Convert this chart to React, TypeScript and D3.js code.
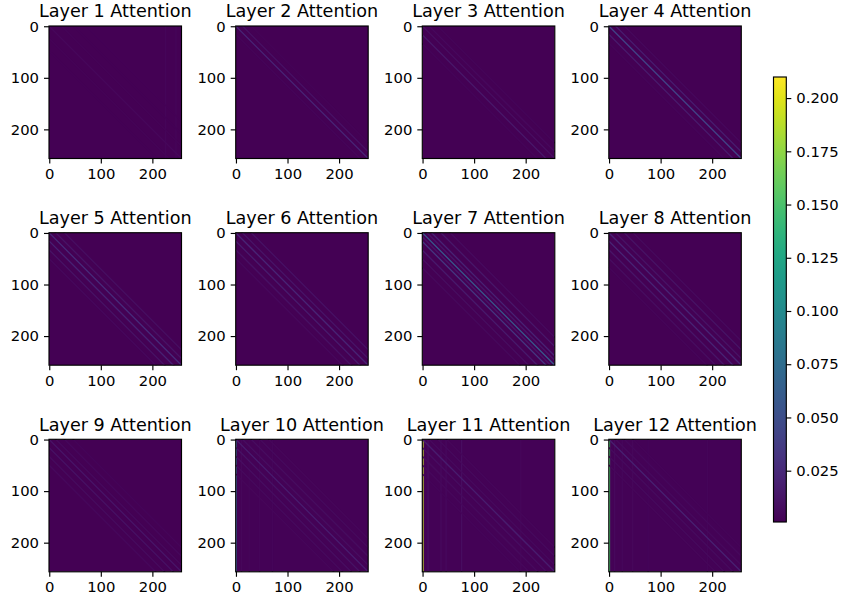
import { useEffect, useRef } from "react";
import { select, scaleLinear, axisBottom, axisLeft, axisRight, interpolateViridis, range } from "d3";

// [offset from the main diagonal (positive = below), attention value]
type Band = [number, number];
// [column, attention value]
type Stripe = [number, number];

const layer1Bands: Band[] = [[0, 0.0045], [-24, 0.003], [24, 0.003], [-48, 0.0025], [48, 0.0025], [-72, 0.002]];
const layer2Bands: Band[] = [[0, 0.022], [-13, 0.01], [16, 0.004], [-30, 0.003]];
const layer3Bands: Band[] = [[0, 0.009], [17, 0.013], [-13, 0.005], [-30, 0.0035], [34, 0.0035]];
const layer4Bands: Band[] = [[0, 0.042], [-13, 0.017], [16, 0.015], [-30, 0.005], [33, 0.004]];
const layer5Bands: Band[] = [[0, 0.026], [-13, 0.011], [16, 0.02], [-30, 0.009], [33, 0.011], [50, 0.005]];
const layer6Bands: Band[] = [[0, 0.022], [-13, 0.012], [16, 0.016], [-30, 0.01], [33, 0.01], [50, 0.005]];
const layer7Bands: Band[] = [[0, 0.058], [-9, 0.012], [-18, 0.021], [17, 0.034], [8, 0.012], [-36, 0.014], [34, 0.015], [-54, 0.007], [51, 0.009], [68, 0.005]];
const layer8Bands: Band[] = [[0, 0.022], [-13, 0.011], [16, 0.022], [-30, 0.011], [33, 0.013], [-47, 0.006], [50, 0.008], [67, 0.004]];
const layer9Bands: Band[] = [[0, 0.012], [-13, 0.006], [16, 0.01], [-30, 0.005], [33, 0.007], [-47, 0.004], [50, 0.005]];
const layer10Bands: Band[] = [[0, 0.017], [-13, 0.009], [16, 0.011], [-30, 0.008], [33, 0.009], [-47, 0.006], [50, 0.006], [-64, 0.0045], [67, 0.0045]];
const layer11Bands: Band[] = [[0, 0.017], [-13, 0.006], [16, 0.008], [-30, 0.006], [33, 0.006], [-47, 0.0045], [50, 0.005], [67, 0.004]];
const layer12Bands: Band[] = [[0, 0.019], [-13, 0.006], [16, 0.007], [-30, 0.005], [33, 0.006], [-47, 0.004], [50, 0.0045]];

const layerBands: Band[][] = [
  layer1Bands, layer2Bands, layer3Bands, layer4Bands,
  layer5Bands, layer6Bands, layer7Bands, layer8Bands,
  layer9Bands, layer10Bands, layer11Bands, layer12Bands,
];

// typical off-diagonal level of each layer
const layerBase = [0.0016, 0.0012, 0.0012, 0.0012, 0.0012, 0.0012, 0.0012, 0.0012, 0.0014, 0.0018, 0.0022, 0.0022];

const layer1Stripes: Stripe[] = [[225, 0.0035], [245, 0.0035]];
const layer10Stripes: Stripe[] = [[0, 0.05], [10, 0.0045], [25, 0.004], [45, 0.004], [70, 0.0035]];
const layer11Stripes: Stripe[] = [[0, 0.19], [10, 0.008], [35, 0.0065], [45, 0.0055], [75, 0.008], [190, 0.0045]];
const layer12Stripes: Stripe[] = [[0, 0.15], [10, 0.0055], [25, 0.0045], [45, 0.0045], [75, 0.004], [190, 0.0035]];

const layerStripes: Stripe[][] = [
  layer1Stripes, [], [], [], [], [], [], [], [], layer10Stripes, layer11Stripes, layer12Stripes,
];

const pixelTicks = [0, 100, 200];
const colorTicks = [0.025, 0.05, 0.075, 0.1, 0.125, 0.15, 0.175, 0.2];
const vMin = 0.0009;
const vMax = 0.2099;
const nTokens = 257;

const colLefts = [49, 235.7, 422.3, 608.8];
const rowTops = [26, 232.7, 439.3];
const panelSize = 132.5;
const FONT = "'DejaVu Sans', sans-serif";

export default function App() {
  const svgRef = useRef<SVGSVGElement>(null);

  useEffect(() => {
    const svg = select(svgRef.current);
    svg.selectAll("*").remove();

    const color = (v: number) => interpolateViridis((v - vMin) / (vMax - vMin));

    layerBands.forEach((bands, i) => {
      const left = colLefts[i % 4];
      const top = rowTops[Math.floor(i / 4)];
      const x = scaleLinear().domain([-0.5, nTokens - 0.5]).range([0, panelSize]);
      const y = scaleLinear().domain([-0.5, nTokens - 0.5]).range([0, panelSize]);

      const g = svg.append("g").attr("transform", `translate(${left},${top})`);
      const clipId = `clip-${i}`;
      g.append("clipPath").attr("id", clipId).append("rect").attr("width", panelSize).attr("height", panelSize);

      const plot = g.append("g").attr("clip-path", `url(#${clipId})`);
      plot.append("rect").attr("width", panelSize).attr("height", panelSize).attr("fill", color(layerBase[i]));

      layerStripes[i].forEach(([col, v]) => {
        plot.append("rect")
          .attr("x", x(col - 0.5))
          .attr("y", 0)
          .attr("width", Math.max(x(col + 0.5) - x(col - 0.5), 1.3))
          .attr("height", panelSize)
          .attr("fill", color(v));
      });

      [...bands].sort((a, b) => a[1] - b[1]).forEach(([off, v]) => {
        plot.append("line")
          .attr("x1", x(-0.5))
          .attr("y1", y(off - 0.5))
          .attr("x2", x(nTokens - 0.5))
          .attr("y2", y(nTokens - 0.5 + off))
          .attr("stroke", color(v))
          .attr("stroke-width", 1.3);
      });

      g.append("rect")
        .attr("width", panelSize)
        .attr("height", panelSize)
        .attr("fill", "none")
        .attr("stroke", "#000")
        .attr("stroke-width", 1.15);

      const styleAxis = (a: any) => {
        a.select(".domain").remove();
        a.selectAll(".tick line").attr("stroke", "#000").attr("stroke-width", 1.15);
        a.selectAll(".tick text").attr("fill", "#000").attr("font-size", 14.8).attr("font-family", FONT);
      };

      g.append("g")
        .attr("transform", `translate(0,${panelSize})`)
        .call(axisBottom(x).tickValues(pixelTicks).tickSize(5).tickPadding(5).tickFormat((d) => `${d}`))
        .call(styleAxis);

      g.append("g")
        .call(axisLeft(y).tickValues(pixelTicks).tickSize(5).tickPadding(5).tickFormat((d) => `${d}`))
        .call(styleAxis);

      g.append("text")
        .attr("x", panelSize / 2)
        .attr("y", -8.6)
        .attr("text-anchor", "middle")
        .attr("font-size", 17.6)
        .attr("font-family", FONT)
        .attr("fill", "#000")
        .text(`Layer ${i + 1} Attention`);
    });

    // colorbar
    const cbLeft = 773.5;
    const cbTop = 77;
    const cbW = 12.8;
    const cbH = 445;
    const cy = scaleLinear().domain([vMin, vMax]).range([cbH, 0]);

    const defs = svg.append("defs");
    const grad = defs.append("linearGradient").attr("id", "viridis").attr("x1", 0).attr("y1", 1).attr("x2", 0).attr("y2", 0);
    range(0, 21).forEach((s) => {
      grad.append("stop").attr("offset", `${s * 5}%`).attr("stop-color", interpolateViridis(s / 20));
    });

    const cb = svg.append("g").attr("transform", `translate(${cbLeft},${cbTop})`);
    cb.append("rect").attr("width", cbW).attr("height", cbH).attr("fill", "url(#viridis)");
    cb.append("rect").attr("width", cbW).attr("height", cbH).attr("fill", "none").attr("stroke", "#000").attr("stroke-width", 1.15);
    cb.append("g")
      .attr("transform", `translate(${cbW},0)`)
      .call(axisRight(cy).tickValues(colorTicks).tickSize(5).tickPadding(5).tickFormat((d) => (d as number).toFixed(3)))
      .call((a: any) => {
        a.select(".domain").remove();
        a.selectAll(".tick line").attr("stroke", "#000").attr("stroke-width", 1.15);
        a.selectAll(".tick text").attr("fill", "#000").attr("font-size", 14.8).attr("font-family", FONT);
      });
  }, []);

  return (
    <svg
      ref={svgRef}
      width={841}
      height={601}
      style={{ position: "absolute", left: 0, top: 0, background: "#fff" }}
    />
  );
}
